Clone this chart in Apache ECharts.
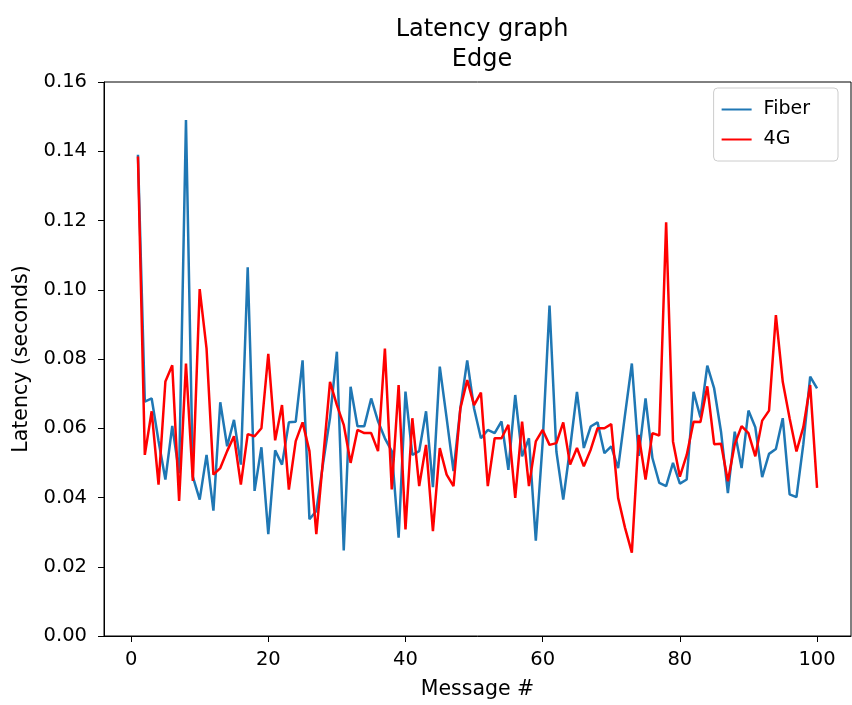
<!DOCTYPE html>
<html>
<head>
<meta charset="utf-8">
<script src="https://cdn.jsdelivr.net/npm/echarts@6/dist/echarts.min.js"></script>
<style>
  html, body { margin: 0; padding: 0; background: #fff; }
  #chart { width: 852px; height: 705px; }
</style>
</head>
<body>
<div id="chart"></div>
<script>
// latency per message
var fiber = [
  0.139, 0.0677, 0.0686, 0.0563, 0.0452, 0.0607, 0.047, 0.149, 0.046, 0.0394,
  0.0523, 0.0362, 0.0675, 0.0548, 0.0624, 0.0495, 0.1065, 0.0419, 0.0545, 0.0294,
  0.0536, 0.0495, 0.0617, 0.0619, 0.0796, 0.0337, 0.0361, 0.050, 0.063, 0.0821,
  0.0247, 0.072, 0.0606, 0.0606, 0.0686, 0.062, 0.0571, 0.0534, 0.0284, 0.0706,
  0.0523, 0.0534, 0.0649, 0.043, 0.0778, 0.0629, 0.0476, 0.0657, 0.0796, 0.0657,
  0.0571, 0.0595, 0.0586, 0.062, 0.048, 0.0696, 0.0519, 0.0571, 0.0275, 0.056,
  0.0954, 0.0533, 0.0394, 0.0543, 0.0705, 0.0543, 0.0605, 0.0617, 0.0528, 0.0548,
  0.0485, 0.0638, 0.0787, 0.052, 0.0686, 0.0514, 0.0442, 0.0433, 0.050, 0.044,
  0.0452, 0.0705, 0.0631, 0.0781, 0.0715, 0.059, 0.0413, 0.059, 0.0485, 0.0651,
  0.0603, 0.0459, 0.0526, 0.054, 0.0629, 0.0409, 0.0401, 0.0554, 0.0749, 0.0715
]
var fourG = [
  0.1385, 0.0523, 0.0649, 0.0437, 0.0735, 0.0782, 0.039, 0.0787, 0.0448, 0.1002,
  0.083, 0.0466, 0.0485, 0.0534, 0.0577, 0.0437, 0.0583, 0.0577, 0.06, 0.0815,
  0.0565, 0.0667, 0.0423, 0.0563, 0.0617, 0.0534, 0.0294, 0.0514, 0.0734, 0.0667,
  0.061, 0.050, 0.0595, 0.0586, 0.0586, 0.0534, 0.083, 0.0423, 0.0725, 0.0308,
  0.0629, 0.0433, 0.0552, 0.0303, 0.0543, 0.0466, 0.0433, 0.0657, 0.0739, 0.0667,
  0.0703, 0.0433, 0.0571, 0.0571, 0.061, 0.0399, 0.0619, 0.0433, 0.0562, 0.0595,
  0.0552, 0.0557, 0.0617, 0.0495, 0.0543, 0.049, 0.0538, 0.06, 0.06, 0.0612,
  0.0399, 0.0313, 0.0241, 0.0581, 0.0452, 0.0586, 0.0579, 0.1195, 0.0562, 0.046,
  0.0523, 0.0619, 0.0618, 0.0721, 0.0554, 0.0555, 0.0447, 0.0554, 0.0606, 0.0586,
  0.0519, 0.0622, 0.0651, 0.0927, 0.0734, 0.0629, 0.0533, 0.0603, 0.0725, 0.0428
]
var xTicks = [0, 20, 40, 60, 80, 100]

var font = 'DejaVu Sans'
var fiberColor = '#1f77b4'
var fourGColor = '#ff0000'

function pairs(list) {
  return list.map(function (v, i) { return [i + 1, v] })
}

var chart = echarts.init(document.getElementById('chart'))
chart.setOption({
  animation: false,
  textStyle: {fontFamily: font},
  title: {
    text: 'Latency graph\nEdge',
    left: 477,
    top: 10,
    textAlign: 'center',
    textStyle: {fontFamily: font, fontSize: 24, fontWeight: 'normal', color: '#000', lineHeight: 30}
  },
  legend: {
    orient: 'vertical',
    right: 14,
    top: 88,
    padding: [12, 28, 12, 8],
    itemGap: 11,
    itemWidth: 30,
    itemHeight: 2,
    borderColor: '#cccccc',
    borderWidth: 1,
    borderRadius: 4,
    textStyle: {fontFamily: font, fontSize: 19, color: '#000', padding: [0, 0, 0, 7]},
    data: [
      {name: 'Fiber', icon: 'rect', itemStyle: {color: fiberColor}},
      {name: '4G', icon: 'rect', itemStyle: {color: fourGColor}}
    ]
  },
  grid: {left: 104, right: 1, top: 82, bottom: 66, show: true, borderColor: '#000', borderWidth: 1},
  xAxis: {
    type: 'value',
    min: -3.95,
    max: 104.95,
    name: 'Message #',
    nameLocation: 'middle',
    nameGap: 43,
    nameTextStyle: {fontFamily: font, fontSize: 20.5, color: '#000'},
    splitLine: {show: false},
    axisLine: {onZero: false, lineStyle: {color: '#000', width: 1}},
    axisTick: {length: 6, lineStyle: {color: '#000'}, customValues: xTicks},
    axisLabel: {margin: 14, fontFamily: font, fontSize: 19.5, color: '#000', customValues: xTicks}
  },
  yAxis: {
    type: 'value',
    min: 0,
    max: 0.16,
    interval: 0.02,
    name: 'Latency (seconds)',
    nameLocation: 'middle',
    nameGap: 72,
    nameTextStyle: {fontFamily: font, fontSize: 20.5, color: '#000'},
    splitLine: {show: false},
    axisLine: {show: true, onZero: false, lineStyle: {color: '#000', width: 1}},
    axisTick: {show: true, length: 6, lineStyle: {color: '#000'}},
    axisLabel: {
      margin: 17, fontFamily: font, fontSize: 19.5, color: '#000',
      formatter: function (v) { return v.toFixed(2) }
    }
  },
  series: [
    {
      name: 'Fiber',
      type: 'line',
      showSymbol: false,
      symbol: 'none',
      lineStyle: {color: fiberColor, width: 2.5},
      itemStyle: {color: fiberColor},
      data: pairs(fiber)
    },
    {
      name: '4G',
      type: 'line',
      showSymbol: false,
      symbol: 'none',
      lineStyle: {color: fourGColor, width: 2.5},
      itemStyle: {color: fourGColor},
      data: pairs(fourG)
    }
  ]
})
</script>
</body>
</html>
